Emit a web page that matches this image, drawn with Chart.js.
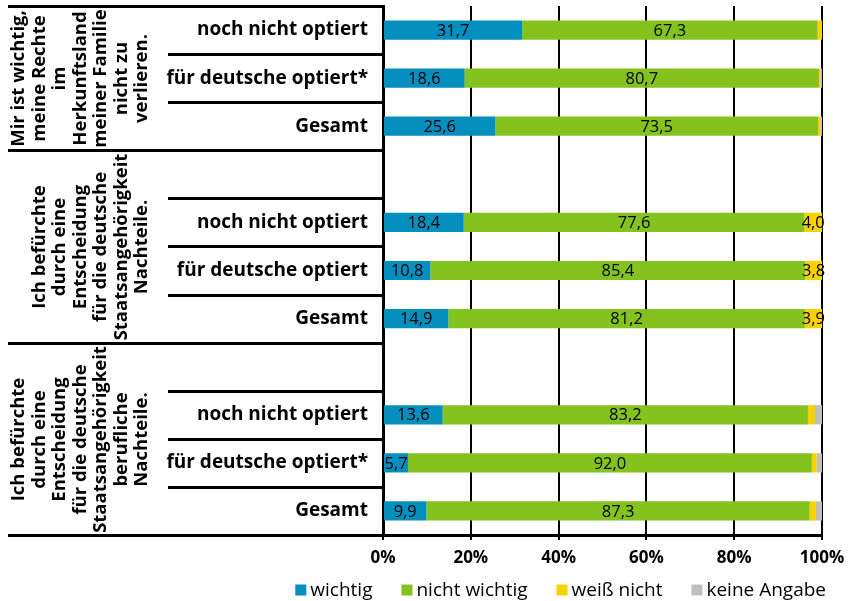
<!DOCTYPE html>
<html>
<head>
<meta charset="utf-8">
<script src="https://cdn.jsdelivr.net/npm/chart.js@4.4.0/dist/chart.umd.min.js"></script>
<style>
    html, body { margin: 0; padding: 0; background: #fff; }
</style>
</head>
<body>
<canvas id="chart" width="854" height="601"></canvas>
<script>
// Rows from top to bottom ('' = empty spacer row above groups 2 and 3)
const rowLabels = [
    'noch nicht optiert', 'für deutsche optiert*', 'Gesamt',
    '', 'noch nicht optiert', 'für deutsche optiert', 'Gesamt',
    '', 'noch nicht optiert', 'für deutsche optiert*', 'Gesamt'
];

const seriesNames = ['wichtig', 'nicht wichtig', 'weiß nicht', 'keine Angabe'];

// Values in percent, one per row
const wichtig      = [31.7, 18.6, 25.6, null, 18.4, 10.8, 14.9, null, 13.6, 5.7, 9.9];
const nichtWichtig = [67.3, 80.7, 73.5, null, 77.6, 85.4, 81.2, null, 83.2, 92.0, 87.3];
const weissNicht   = [1.0, 0.3, 0.5, null, 4.0, 3.8, 3.9, null, 1.6, 1.1, 1.4];
const keineAngabe  = [0, 0.4, 0.4, null, 0, 0, 0, null, 1.6, 1.2, 1.4];

const xTicks = [0, 20, 40, 60, 80, 100];

// Question texts, one per group, already split into lines
const groupLines = [
    ['Mir ist wichtig,', 'meine Rechte', 'im', 'Herkunftsland', 'meiner Familie', 'nicht zu', 'verlieren.'],
    ['Ich befürchte', 'durch eine', 'Entscheidung', 'für die deutsche', 'Staatsangehörigkeit', 'Nachteile.'],
    ['Ich befürchte', 'durch eine', 'Entscheidung', 'für die deutsche', 'Staatsangehörigkeit', 'berufliche', 'Nachteile.']
];
// first and last row of each group
const groupRows = [[0, 2], [3, 6], [7, 10]];

const colors = ['#058fbe', '#84c21e', '#f8d100', '#bfbfbf'];
const FONT = '"Open Sans", sans-serif';

// Row separators, group separators and rotated question texts on the left
const groupPlugin = {
    id: 'groups',
    afterDraw(chart) {
        const ctx = chart.ctx;
        const yScale = chart.scales.y;
        const half = (yScale.getPixelForValue(1) - yScale.getPixelForValue(0)) / 2;
        const labelRight = 168;

        ctx.save();
        ctx.strokeStyle = '#000';
        ctx.lineWidth = 3;

        // short lines between the rows
        ctx.beginPath();
        rowLabels.forEach((label, i) => {
            const yy = Math.round(yScale.getPixelForValue(i) - half) + 0.5;
            ctx.moveTo(labelRight, yy);
            ctx.lineTo(yScale.right, yy);
        });
        ctx.stroke();

        ctx.fillStyle = '#000';
        ctx.font = 'bold 18.5px ' + FONT;
        ctx.textAlign = 'center';
        ctx.textBaseline = 'middle';

        groupRows.forEach((rows, g) => {
            const top = Math.round(yScale.getPixelForValue(rows[0]) - half) + 0.5;
            const bottom = Math.round(yScale.getPixelForValue(rows[1]) + half) + 0.5;

            ctx.beginPath();
            ctx.moveTo(8, top);
            ctx.lineTo(yScale.right, top);
            if (g === groupRows.length - 1) {
                ctx.moveTo(8, bottom);
                ctx.lineTo(yScale.right, bottom);
            }
            ctx.stroke();

            // rotated text, last line next to the row labels
            const lines = groupLines[g];
            const lineGap = 20.5;
            ctx.save();
            ctx.translate(labelRight - 26 - (lines.length - 1) * lineGap, (top + bottom) / 2);
            ctx.rotate(-Math.PI / 2);
            lines.forEach((line, i) => {
                ctx.fillText(line, 0, i * lineGap);
            });
            ctx.restore();
        });

        // legend, right end under the 100% tick
        ctx.font = '19px ' + FONT;
        ctx.textAlign = 'left';
        const box = 11, gap = 4, itemGap = 29;
        let total = 0;
        seriesNames.forEach(name => { total += box + gap + ctx.measureText(name).width; });
        total += itemGap * (seriesNames.length - 1);
        let x = 826 - total;
        const ly = 590;
        seriesNames.forEach((name, i) => {
            ctx.fillStyle = colors[i];
            ctx.fillRect(x, ly - box / 2, box, box);
            ctx.fillStyle = '#000';
            ctx.fillText(name, x + box + gap, ly + 1);
            x += box + gap + ctx.measureText(name).width + itemGap;
        });
        ctx.restore();
    }
};

// Value labels inside the bar segments
const valueLabels = {
    id: 'valueLabels',
    afterDatasetsDraw(chart) {
        const ctx = chart.ctx;
        ctx.save();
        ctx.font = '16.5px ' + FONT;
        ctx.fillStyle = '#000';
        ctx.textAlign = 'center';
        ctx.textBaseline = 'middle';
        chart.data.datasets.forEach((ds, i) => {
            const meta = chart.getDatasetMeta(i);
            meta.data.forEach((bar, j) => {
                const v = ds.data[j];
                if (v == null || v < 3.5) return;
                const cx = (bar.x + bar.base) / 2;
                ctx.fillText(v.toFixed(1).replace('.', ','), cx, bar.y + 1);
            });
        });
        ctx.restore();
    }
};

const seriesData = [wichtig, nichtWichtig, weissNicht, keineAngabe];

const chart = new Chart(document.getElementById('chart'), {
    type: 'bar',
    data: {
        labels: rowLabels,
        datasets: seriesNames.map((name, i) => ({
            label: name,
            data: seriesData[i],
            backgroundColor: colors[i],
            borderWidth: 0,
            categoryPercentage: 0.8,
            barPercentage: 0.5
        }))
    },
    options: {
        indexAxis: 'y',
        responsive: false,
        animation: false,
        devicePixelRatio: 1,
        layout: { padding: { left: 8, right: 32, top: 6, bottom: 34 } },
        scales: {
            x: {
                stacked: true,
                min: 0,
                max: 100,
                afterBuildTicks: s => { s.ticks = xTicks.map(v => ({ value: v })); },
                afterFit: s => { s.height = 32; },
                ticks: {
                    callback: v => v + '%',
                    color: '#000',
                    padding: 8,
                    font: { family: FONT, size: 17, weight: 'bold' }
                },
                grid: { color: '#000', lineWidth: 2, tickLength: 5 },
                border: { color: '#000', width: 3 }
            },
            y: {
                stacked: true,
                afterFit: s => {
                    s.width = 375;
                    s.paddingTop = 0;
                    s.paddingBottom = 0;
                },
                ticks: {
                    autoSkip: false,
                    color: '#000',
                    padding: 7,
                    font: { family: FONT, size: 19, weight: 'bold' }
                },
                grid: { display: false },
                border: { color: '#000', width: 3 }
            }
        },
        plugins: {
            tooltip: { enabled: false },
            legend: { display: false }
        }
    },
    plugins: [groupPlugin, valueLabels]
});
</script>
</body>
</html>
